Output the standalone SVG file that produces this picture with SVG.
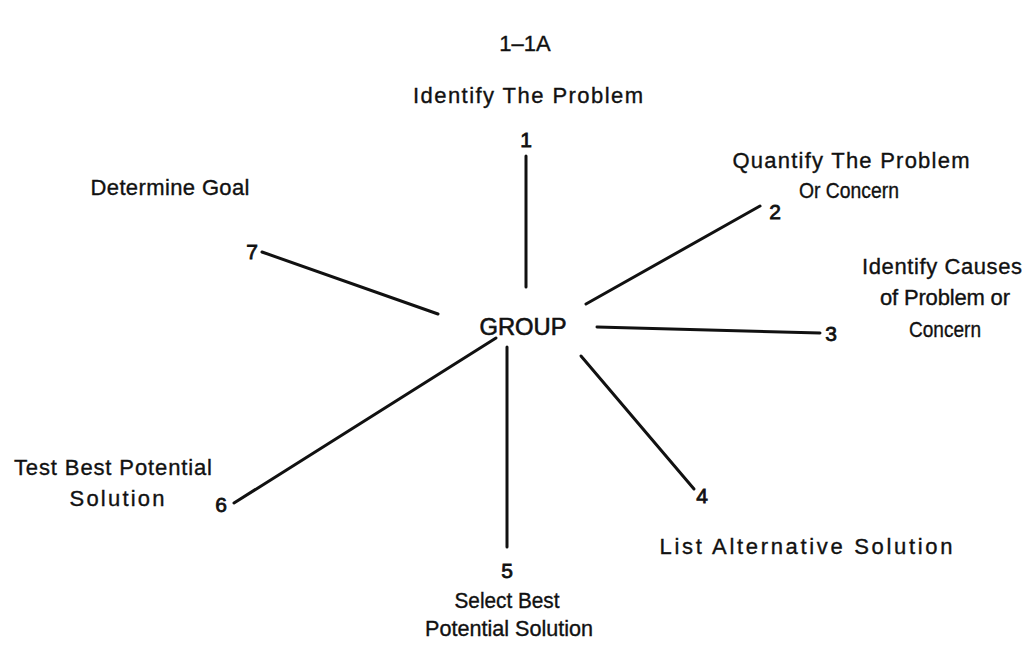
<svg xmlns="http://www.w3.org/2000/svg" width="1030" height="645" viewBox="0 0 1030 645">
  <style>
    text { font-family: "Liberation Sans", Arial, sans-serif; font-size: 22px; fill: #111; stroke: #111; stroke-width: 0.35; }
    .c { text-anchor: middle; }
    .num { font-size: 21px; stroke-width: 0.8; }
    .hub { font-size: 23px; stroke-width: 0.6; }
    .spoke { stroke: #111; stroke-width: 3; stroke-linecap: round; fill: none; }
  </style>
  <rect width="1030" height="645" fill="#fff"/>

  <text x="525" y="51" class="c" font-size="20">1–1A</text>

  <g id="connectors">
    <line class="spoke" x1="526" y1="156" x2="526" y2="287"/>
    <line class="spoke" x1="586" y1="304" x2="760" y2="206"/>
    <line class="spoke" x1="597" y1="327" x2="820" y2="333"/>
    <line class="spoke" x1="581" y1="356" x2="694" y2="489"/>
    <line class="spoke" x1="507" y1="347" x2="507" y2="547"/>
    <line class="spoke" x1="496" y1="338" x2="234" y2="503"/>
    <line class="spoke" x1="262" y1="252" x2="438" y2="314"/>
  </g>

  <g id="group">
    <text x="523" y="335" class="c hub" textLength="87" lengthAdjust="spacingAndGlyphs">GROUP</text>
  </g>

  <g id="step1">
    <text x="528" y="103" class="c" textLength="230" lengthAdjust="spacing">Identify The Problem</text>
    <text x="526" y="147" class="c num">1</text>
  </g>

  <g id="step2">
    <text x="851" y="168" class="c" textLength="237" lengthAdjust="spacing">Quantify The Problem</text>
    <text x="849" y="198" class="c" textLength="100" lengthAdjust="spacingAndGlyphs">Or Concern</text>
    <text x="775" y="219" class="c num">2</text>
  </g>

  <g id="step3">
    <text x="831" y="341" class="c num">3</text>
    <text x="942" y="274" class="c" textLength="160" lengthAdjust="spacing">Identify Causes</text>
    <text x="945" y="305" class="c" textLength="130" lengthAdjust="spacing">of Problem or</text>
    <text x="945" y="337" class="c" textLength="72" lengthAdjust="spacingAndGlyphs">Concern</text>
  </g>

  <g id="step4">
    <text x="702" y="503" class="c num">4</text>
    <text x="806" y="554" class="c" textLength="293" lengthAdjust="spacing">List Alternative Solution</text>
  </g>

  <g id="step5">
    <text x="507" y="578" class="c num">5</text>
    <text x="507" y="608" class="c" textLength="105" lengthAdjust="spacingAndGlyphs">Select Best</text>
    <text x="509" y="636" class="c" textLength="168" lengthAdjust="spacingAndGlyphs">Potential Solution</text>
  </g>

  <g id="step6">
    <text x="113" y="475" class="c" textLength="198" lengthAdjust="spacing">Test Best Potential</text>
    <text x="117" y="506" class="c" textLength="95" lengthAdjust="spacing">Solution</text>
    <text x="221" y="512" class="c num">6</text>
  </g>

  <g id="step7">
    <text x="170" y="195" class="c" textLength="159" lengthAdjust="spacing">Determine Goal</text>
    <text x="252" y="259" class="c num">7</text>
  </g>
</svg>
